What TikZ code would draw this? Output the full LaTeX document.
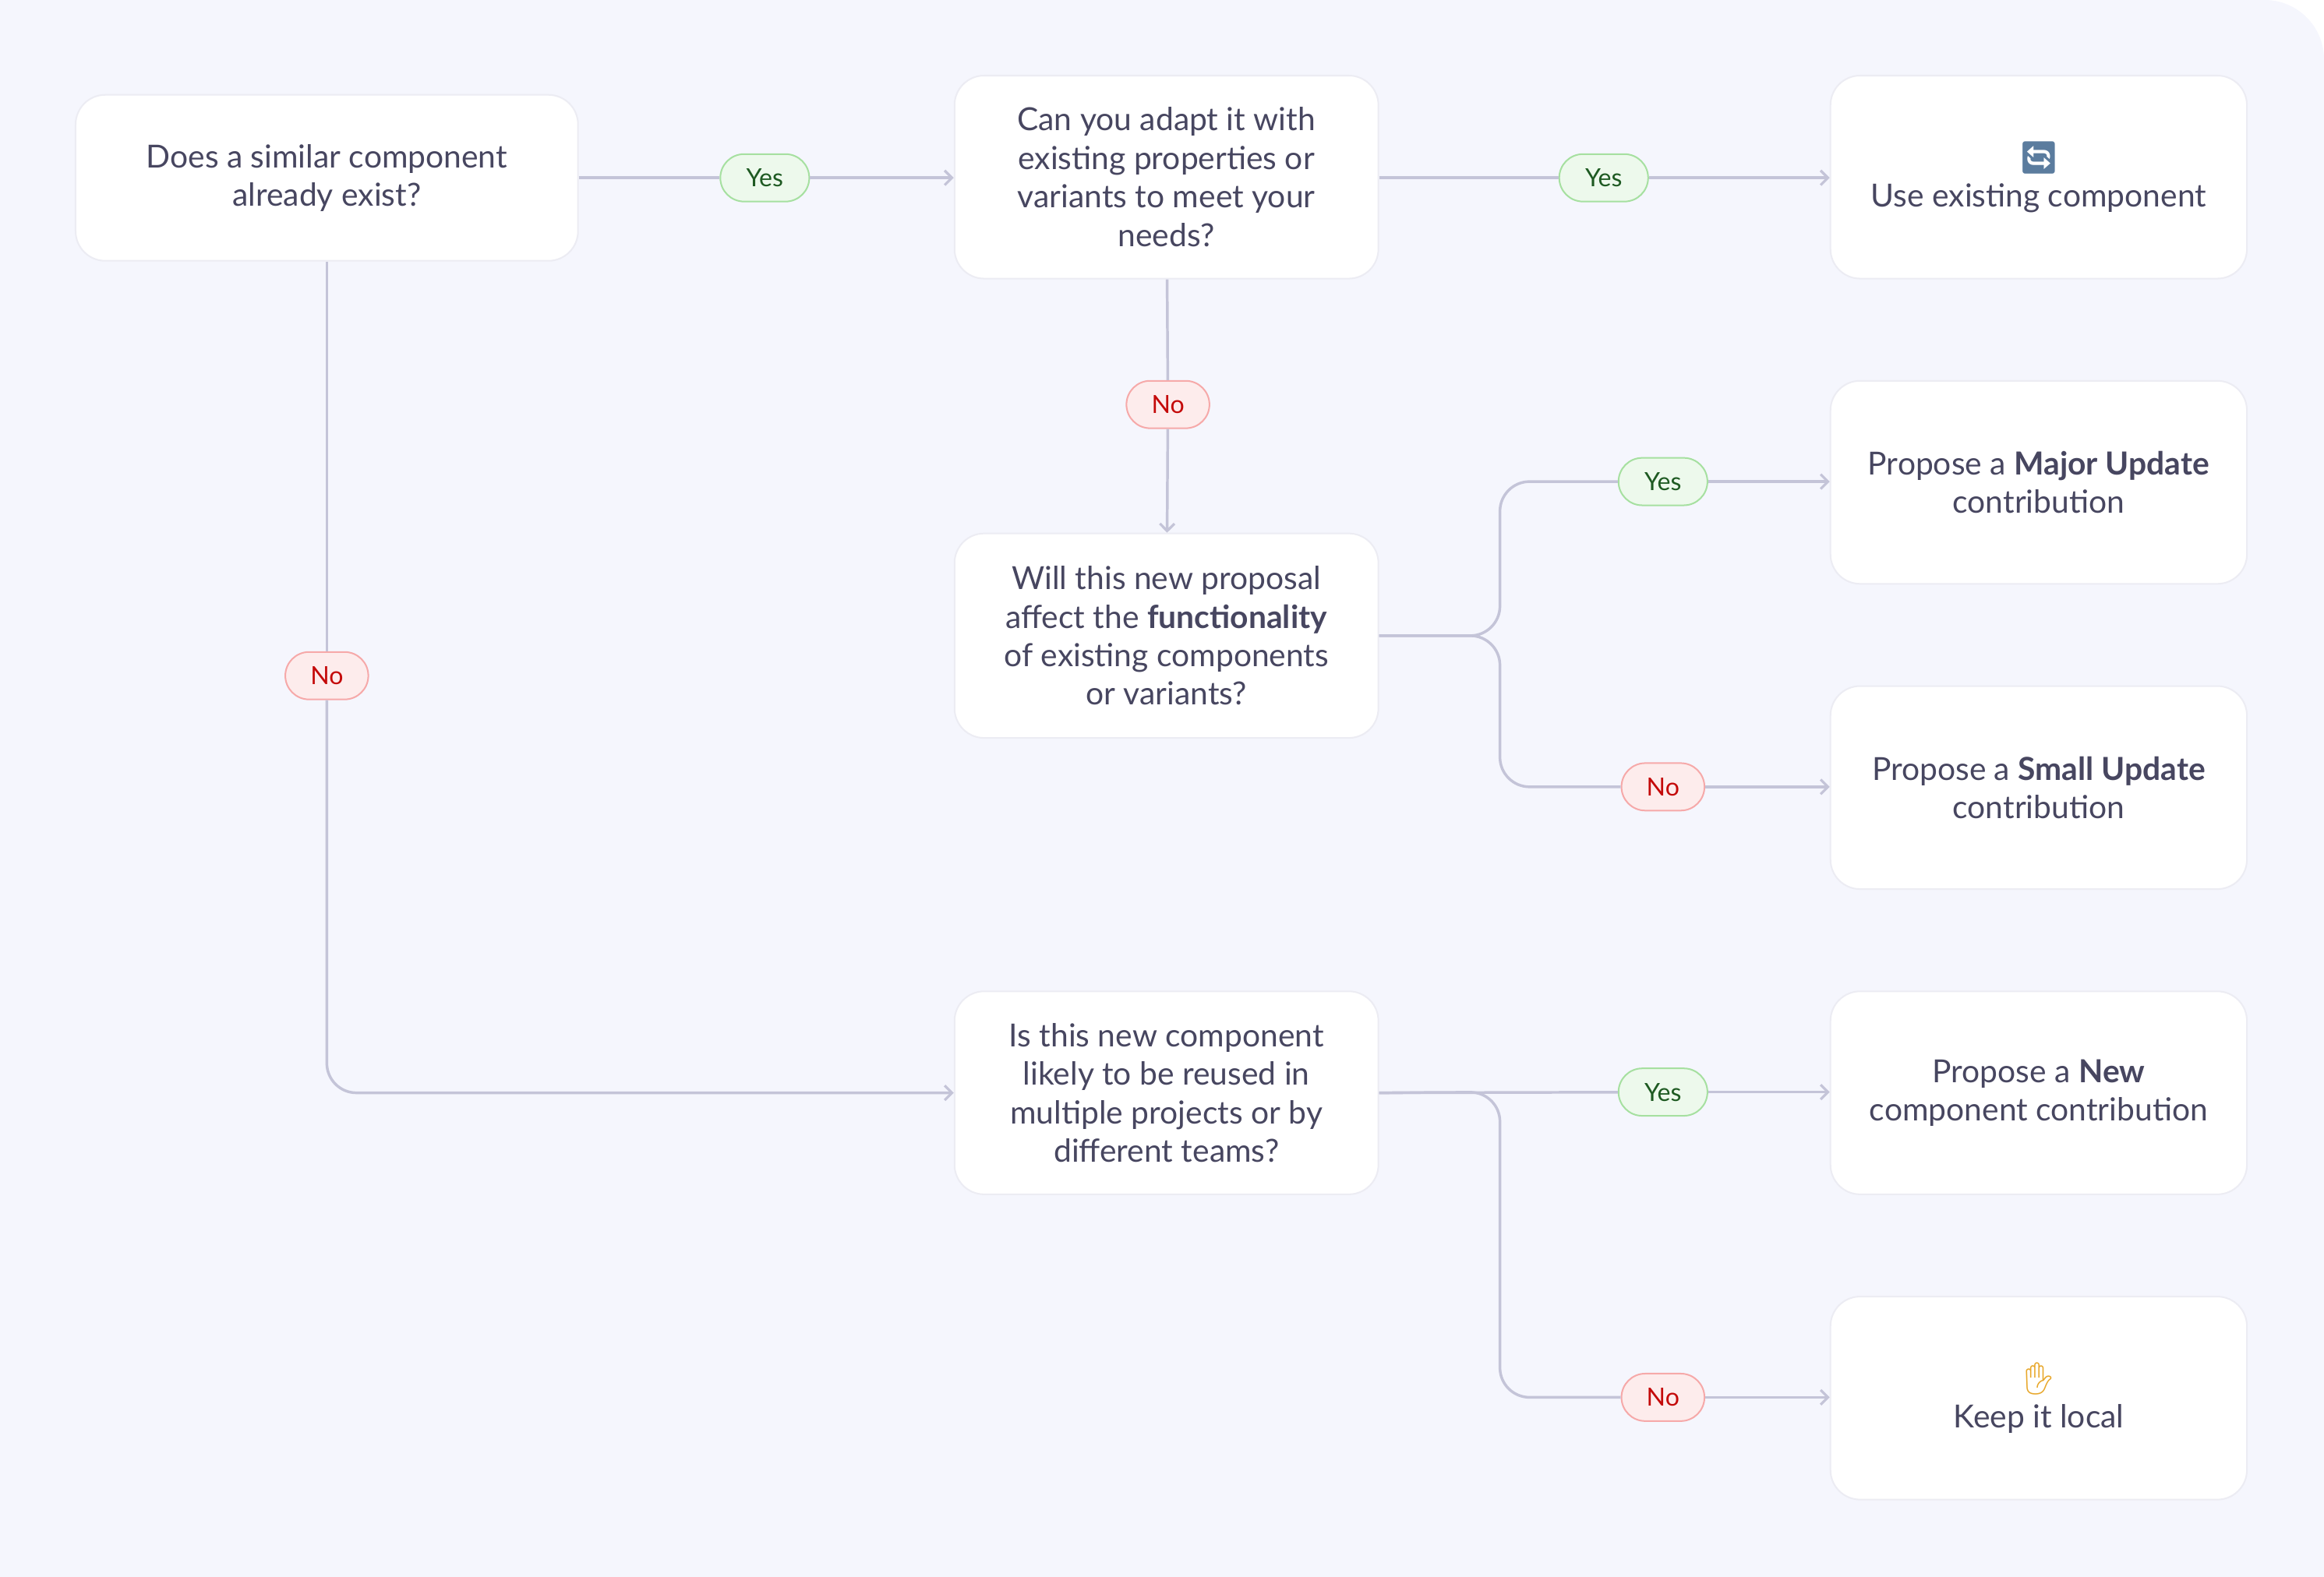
\documentclass[tikz,border=0pt]{standalone}
\usepackage{fontspec}
\setmainfont{Lato}
\newfontfamily\emo{Noto Emoji}
\usetikzlibrary{arrows.meta}
\definecolor{bgc}{HTML}{F5F6FD}
\definecolor{bord}{HTML}{ECECF3}
\definecolor{lin}{HTML}{C4C4D8}
\definecolor{txt}{HTML}{474660}
\definecolor{yesf}{HTML}{EDF9EC}
\definecolor{yesd}{HTML}{A6E0A0}
\definecolor{yest}{HTML}{1E5A22}
\definecolor{nof}{HTML}{FDECEC}
\definecolor{nod}{HTML}{F6A9A9}
\definecolor{not}{HTML}{C40A0A}
\definecolor{emoc}{HTML}{5B7C9E}
\definecolor{emoh}{HTML}{E8A72A}
\begin{document}
\begin{tikzpicture}[x=0.5mm,y=-0.5mm,
  box/.style={draw=bord,line width=1.5pt,fill=white,rounded corners=10mm,text=txt,align=center,font=\fontsize{30.5}{37}\selectfont,inner sep=0pt},
  yes/.style={draw=yesd,line width=1.5pt,fill=yesf,text=yest,rounded corners=8mm,minimum width=30mm,minimum height=16mm,font=\fontsize{24}{26}\selectfont,inner sep=0pt},
  no/.style={draw=nod,line width=1.5pt,fill=nof,text=not,rounded corners=8mm,minimum width=28mm,minimum height=16mm,font=\fontsize{24}{26}\selectfont,inner sep=0pt},
  con/.style={draw=lin,line width=2.6pt},
  arr/.style={con,-{Straight Barb[length=7pt,width=14pt,line width=2.4pt]}}]
\useasboundingbox (0,0) rectangle (1568,1064);
\fill[bgc,rounded corners=20mm] (0,0) rectangle (1568,1100);
\fill[bgc] (0,0) rectangle (1400,1064);
\node[box,minimum width=169.5mm,minimum height=56mm] (A) at (220.5,120) {Does a similar component\\already exist?};
\node[box,minimum width=143mm,minimum height=68.5mm] (B) at (787,119.5) {Can you adapt it with\\existing properties or\\variants to meet your\\needs?};
\node[box,minimum width=140.5mm,minimum height=68.5mm] (C) at (1375.5,119.5) {{\emo\color{emoc}🔄}\\Use existing component};
\node[box,minimum width=143mm,minimum height=69mm] (D) at (787,429) {Will this new proposal\\affect the \textbf{functionality}\\of existing components\\or variants?};
\node[box,minimum width=140.5mm,minimum height=68.5mm] (E) at (1375.5,325.5) {Propose a \textbf{Major Update}\\contribution};
\node[box,minimum width=140.5mm,minimum height=68.5mm] (F) at (1375.5,531.5) {Propose a \textbf{Small Update}\\contribution};
\node[box,minimum width=143mm,minimum height=68.5mm] (G) at (787,737.5) {Is this new component\\likely to be reused in\\multiple projects or by\\different teams?};
\node[box,minimum width=140.5mm,minimum height=68.5mm] (H) at (1375.5,737.5) {Propose a \textbf{New}\\component contribution};
\node[box,minimum width=140.5mm,minimum height=68.5mm] (I) at (1375.5,943.5) {{\emo\color{emoh}✋}\\Keep it local};
% connectors
\node[yes] (y1) at (516,120) {Yes};
\draw[con] (A.east|-y1) -- (y1);
\draw[arr] (y1) -- (B.west|-y1);
\node[yes] (y2) at (1082,120) {Yes};
\draw[con] (B.east|-y2) -- (y2);
\draw[arr] (y2) -- (C.west|-y2);
\node[no] (n1) at (788,273) {No};
\draw[con] (B) -- (n1);
\draw[arr] (n1) -- (D);
\node[yes] (y3) at (1122,325) {Yes};
\node[no] (n2) at (1122,531) {No};
\coordinate (bD) at (1012,429);
\draw[con,rounded corners=10mm] (D.east) -- (bD) |- (y3);
\draw[con,rounded corners=10mm] (D.east) -- (bD) |- (n2);
\draw[arr] (y3) -- (E.west|-y3);
\draw[arr] (n2) -- (F.west|-n2);
\node[no] (n3) at (220.5,456) {No};
\draw[con] (A) -- (n3);
\draw[arr,rounded corners=10mm] (n3) |- (G.west);
\node[yes] (y4) at (1122,737) {Yes};
\node[no] (n4) at (1122,943) {No};
\coordinate (bG) at (1012,737);
\draw[con] (G.east) -- (y4);
\draw[con,rounded corners=10mm] (G.east) -- (bG) |- (n4);
\draw[arr] (y4) -- (H.west|-y4);
\draw[arr] (n4) -- (I.west|-n4);
\end{tikzpicture}
\end{document}
